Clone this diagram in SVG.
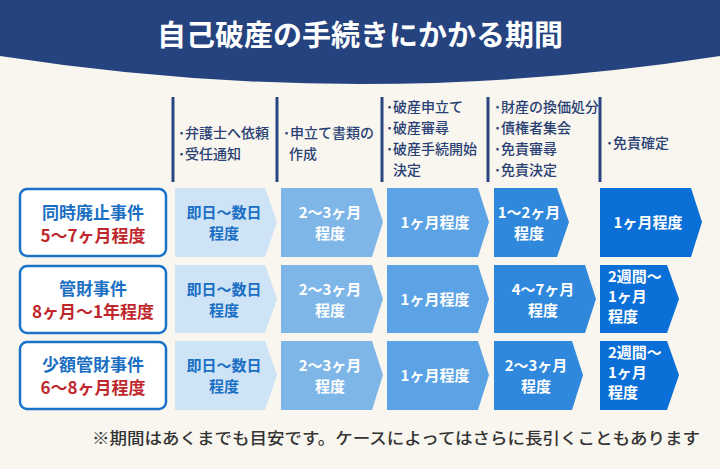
<svg xmlns="http://www.w3.org/2000/svg" width="720" height="469" viewBox="0 0 720 469">
<style>
text{font-family:"Noto Sans CJK JP","Noto Sans",sans-serif;font-weight:bold}
.h{font-size:14px;fill:#2a4173;font-weight:500}
.lb{font-size:17px;text-anchor:middle}
.b{fill:#1a6fc4}.r{fill:#c0272d}
.a{font-size:15px;text-anchor:middle;fill:#fff}
.a1{fill:#1a6fc4}
.vl{stroke:#2a4680;stroke-width:3}
.box{fill:#fff;stroke:#1a73c8;stroke-width:2.5}
</style>
<rect width="720" height="469" fill="#f8f6ef"/>
<path d="M0 0H720V56Q360 112 0 56Z" fill="#25437f"/>
<text x="360" y="46" font-size="29" fill="#fff" text-anchor="middle">自己破産の手続きにかかる期間</text>
<g id="headers">
<line class="vl" x1="173" y1="97" x2="173" y2="182"/>
<line class="vl" x1="277" y1="97" x2="277" y2="182"/>
<line class="vl" x1="382" y1="97" x2="382" y2="182"/>
<line class="vl" x1="488" y1="97" x2="488" y2="182"/>
<line class="vl" x1="600" y1="97" x2="600" y2="182"/>
<text class="h" x="178" y="138">･弁護士へ依頼</text>
<text class="h" x="178" y="159">･受任通知</text>
<text class="h" x="283" y="138">･申立て書類の</text>
<text class="h" x="289" y="159">作成</text>
<text class="h" x="386" y="112">･破産申立て</text>
<text class="h" x="386" y="133">･破産審尋</text>
<text class="h" x="386" y="154">･破産手続開始</text>
<text class="h" x="393" y="175">決定</text>
<text class="h" x="494" y="112">･財産の換価処分</text>
<text class="h" x="494" y="133">･債権者集会</text>
<text class="h" x="494" y="154">･免責審尋</text>
<text class="h" x="494" y="175">･免責決定</text>
<text class="h" x="606" y="148">･免責確定</text>
</g>
<g id="row1">
<rect class="box" x="20" y="189" width="146" height="67" rx="7"/>
<text class="lb b" x="93" y="219">同時廃止事件</text>
<text class="lb r" x="93" y="242">5〜7ヶ月程度</text>
<path d="M175 188H265L277 222L265 257H175Z" fill="#cfe3f6"/>
<text class="a a1" x="224" y="218">即日〜数日</text><text class="a a1" x="224" y="239">程度</text>
<path d="M281 188H372L383 222L372 257H281Z" fill="#7fb6e8"/>
<text class="a" x="330" y="218">2〜3ヶ月</text><text class="a" x="330" y="239">程度</text>
<path d="M387 188H478L489 222L478 257H387Z" fill="#5ba3e4"/>
<text class="a" x="435" y="228">1ヶ月程度</text>
<path d="M494 188H557L569 222L557 257H494Z" fill="#2f88dc"/>
<text class="a" x="529" y="218">1〜2ヶ月</text><text class="a" x="529" y="239">程度</text>
<path d="M600 188H691L702 222L691 257H600Z" fill="#0a6fd6"/>
<text class="a" x="648" y="228">1ヶ月程度</text>
</g>
<g id="row2">
<rect class="box" x="20" y="266" width="146" height="67" rx="7"/>
<text class="lb b" x="93" y="295">管財事件</text>
<text class="lb r" x="93" y="318">8ヶ月〜1年程度</text>
<path d="M175 265H265L277 299L265 333H175Z" fill="#cfe3f6"/>
<text class="a a1" x="224" y="295">即日〜数日</text><text class="a a1" x="224" y="316">程度</text>
<path d="M281 265H372L383 299L372 333H281Z" fill="#7fb6e8"/>
<text class="a" x="330" y="295">2〜3ヶ月</text><text class="a" x="330" y="316">程度</text>
<path d="M387 265H478L489 299L478 333H387Z" fill="#5ba3e4"/>
<text class="a" x="435" y="305">1ヶ月程度</text>
<path d="M494 265H585L596 299L585 333H494Z" fill="#2f88dc"/>
<text class="a" x="543" y="295">4〜7ヶ月</text><text class="a" x="543" y="316">程度</text>
<path d="M600 265H667L679 299L667 333H600Z" fill="#0a6fd6"/>
<text class="a" x="608" y="282" style="text-anchor:start">2週間〜</text>
<text class="a" x="608" y="302" style="text-anchor:start">1ヶ月</text>
<text class="a" x="608" y="322" style="text-anchor:start">程度</text>
</g>
<g id="row3">
<rect class="box" x="20" y="342" width="146" height="67" rx="7"/>
<text class="lb b" x="93" y="371">少額管財事件</text>
<text class="lb r" x="93" y="394">6〜8ヶ月程度</text>
<path d="M175 341H265L277 375L265 410H175Z" fill="#cfe3f6"/>
<text class="a a1" x="224" y="371">即日〜数日</text><text class="a a1" x="224" y="392">程度</text>
<path d="M281 341H372L383 375L372 410H281Z" fill="#7fb6e8"/>
<text class="a" x="330" y="371">2〜3ヶ月</text><text class="a" x="330" y="392">程度</text>
<path d="M387 341H478L489 375L478 410H387Z" fill="#5ba3e4"/>
<text class="a" x="435" y="381">1ヶ月程度</text>
<path d="M494 341H572L583 375L572 410H494Z" fill="#2f88dc"/>
<text class="a" x="536" y="371">2〜3ヶ月</text><text class="a" x="536" y="392">程度</text>
<path d="M600 341H667L679 375L667 410H600Z" fill="#0a6fd6"/>
<text class="a" x="608" y="358" style="text-anchor:start">2週間〜</text>
<text class="a" x="608" y="378" style="text-anchor:start">1ヶ月</text>
<text class="a" x="608" y="398" style="text-anchor:start">程度</text>
</g>
<text x="92" y="444" font-size="15.5" fill="#333" textLength="608" lengthAdjust="spacingAndGlyphs" style="font-weight:500">※期間はあくまでも目安です。ケースによってはさらに長引くこともあります</text>
</svg>
